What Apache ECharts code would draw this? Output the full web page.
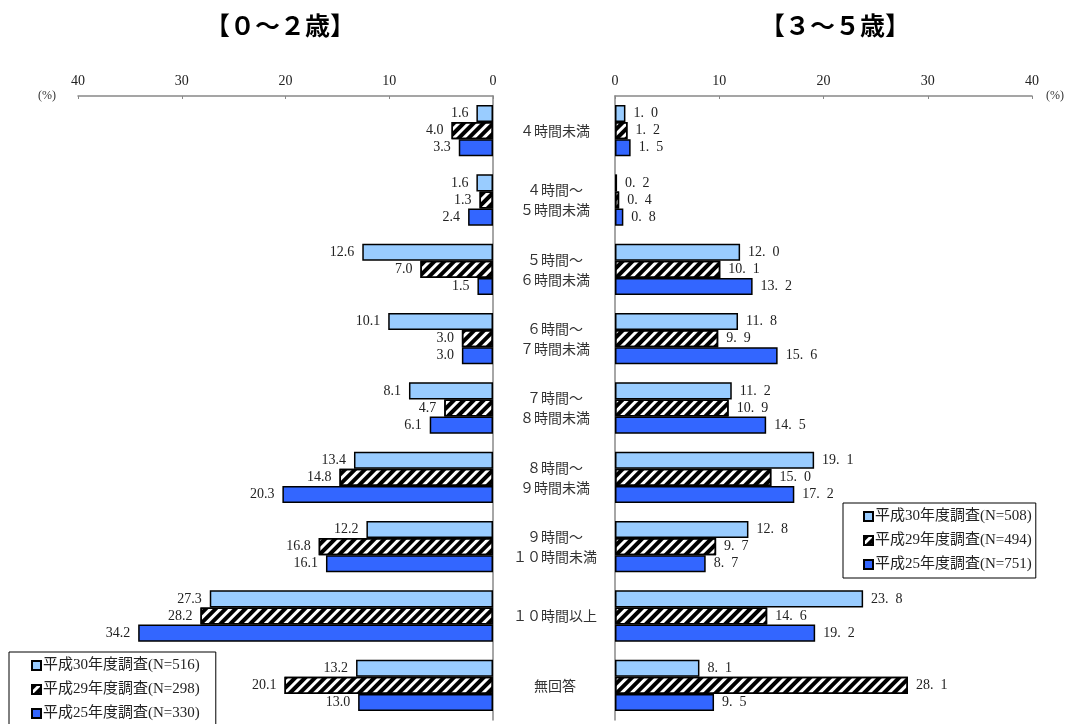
<!DOCTYPE html>
<html>
<head>
<meta charset="utf-8">
<script src="https://cdn.jsdelivr.net/npm/echarts@6/dist/echarts.min.js"></script>
<style>
	html, body { margin: 0; padding: 0; background: #fff; }
	#main { width: 1067px; height: 724px; }
</style>
</head>
<body>
<div id="main"></div>
<script>
var categories = ['４時間未満', '４時間～\n５時間未満', '５時間～\n６時間未満', '６時間～\n７時間未満', '７時間～\n８時間未満', '８時間～\n９時間未満', '９時間～\n１０時間未満', '１０時間以上', '無回答'];
var xTicks = [0, 10, 20, 30, 40];

// 0～2歳
var leftNames = ['平成30年度調査(N=516)', '平成29年度調査(N=298)', '平成25年度調査(N=330)'];
var leftH30 = [1.6, 1.6, 12.6, 10.1, 8.1, 13.4, 12.2, 27.3, 13.2];
var leftH29 = [4.0, 1.3, 7.0, 3.0, 4.7, 14.8, 16.8, 28.2, 20.1];
var leftH25 = [3.3, 2.4, 1.5, 3.0, 6.1, 20.3, 16.1, 34.2, 13.0];

// 3～5歳
var rightNames = ['平成30年度調査(N=508)', '平成29年度調査(N=494)', '平成25年度調査(N=751)'];
var rightH30 = [1.0, 0.2, 12.0, 11.8, 11.2, 19.1, 12.8, 23.8, 8.1];
var rightH29 = [1.2, 0.4, 10.1, 9.9, 10.9, 15.0, 9.7, 14.6, 28.1];
var rightH25 = [1.5, 0.8, 13.2, 15.6, 14.5, 17.2, 8.7, 19.2, 9.5];

var serif = '"Liberation Serif", "Noto Sans CJK JP", serif';
var hatch = {
	symbol: 'rect',
	symbolSize: 1,
	color: '#000',
	dashArrayX: [1, 0],
	dashArrayY: [4, 3],
	rotation: -Math.PI / 4
};
var styles = [
	{ color: '#99ccff', borderColor: '#000', borderWidth: 1.5 },
	{ color: '#fff', borderColor: '#000', borderWidth: 1.5, decal: hatch },
	{ color: '#3366ff', borderColor: '#000', borderWidth: 1.5 }
];

function makeX(gridIndex, inverse) {
	return {
		type: 'value',
		gridIndex: gridIndex,
		position: 'top',
		inverse: inverse,
		min: xTicks[0],
		max: xTicks[xTicks.length - 1],
		interval: 10,
		name: '(%)',
		nameLocation: 'end',
		nameGap: inverse ? 22 : 14,
		nameTextStyle: { fontFamily: serif, fontSize: 12, color: '#333', padding: [10, 0, 0, 0] },
		axisLine: { show: true, lineStyle: { color: '#888', width: 1.5 } },
		axisTick: { show: true, inside: true, length: 3, lineStyle: { color: '#888' } },
		axisLabel: { fontFamily: serif, fontSize: 14, color: '#222', margin: 8 },
		splitLine: { show: false }
	};
}

function makeSeries(names, lists, gridIndex, left) {
	var out = [];
	for (var i = 0; i < lists.length; i++) {
		out.push({
			name: names[i],
			type: 'bar',
			xAxisIndex: gridIndex,
			yAxisIndex: gridIndex,
			data: lists[i],
			barGap: '0%',
			barCategoryGap: '26%',
			itemStyle: styles[i],
			label: {
				show: true,
				position: left ? 'left' : 'right',
				distance: 8,
				fontFamily: serif,
				fontSize: 14,
				color: '#222',
				formatter: function(p) {
					var s = p.value.toFixed(1);
					return left ? s : s.replace('.', '.  ');
				}
			}
		});
	}
	return out;
}

function makeLegend(names, x, y, pad) {
	return {
		data: names,
		orient: 'vertical',
		left: x,
		top: y,
		height: 110,
		icon: 'rect',
		itemWidth: 9,
		itemHeight: 9,
		itemGap: 9,
		padding: pad,
		borderColor: '#000',
		borderWidth: 1,
		backgroundColor: '#fff',
		textStyle: { fontFamily: serif, fontSize: 15, color: '#222', padding: [0, 0, 0, -3] }
	};
}

var myChart = echarts.init(document.getElementById('main'));
var titleStyle = { fontFamily: '"Noto Sans CJK JP"', fontSize: 25, fontWeight: 'bold', color: '#000' };
var option = {
	animation: false,
	title: [
		{ text: '【０～２歳】', left: 275, top: 8, textAlign: 'center', textStyle: titleStyle },
		{ text: '【３～５歳】', left: 830, top: 8, textAlign: 'center', textStyle: titleStyle }
	],
	legend: [
		makeLegend(leftNames, 9, 652, [6, 16, 6, 22]),
		makeLegend(rightNames, 843, 503, [6, 4, 6, 20])
	],
	grid: [
		{ left: 78, right: 574, top: 96, bottom: 4 },
		{ left: 615, right: 35, top: 96, bottom: 4 }
	],
	xAxis: [makeX(0, true), makeX(1, false)],
	yAxis: [
		{
			type: 'category',
			gridIndex: 0,
			position: 'right',
			inverse: true,
			data: categories,
			axisLine: { lineStyle: { color: '#888', width: 1.5 } },
			axisTick: { inside: true, length: 5, lineStyle: { color: '#888' } },
			axisLabel: { show: false }
		},
		{
			type: 'category',
			gridIndex: 1,
			position: 'left',
			inverse: true,
			data: categories,
			axisLine: { lineStyle: { color: '#888', width: 1.5 } },
			axisTick: { inside: true, length: 5, lineStyle: { color: '#888' } },
			axisLabel: {
				align: 'center',
				margin: 60,
				fontFamily: '"Noto Sans CJK JP"',
				fontSize: 14,
				lineHeight: 20,
				color: '#333'
			}
		}
	],
	series: makeSeries(leftNames, [leftH30, leftH29, leftH25], 0, true)
		.concat(makeSeries(rightNames, [rightH30, rightH29, rightH25], 1, false))
};
myChart.setOption(option);
</script>
</body>
</html>
